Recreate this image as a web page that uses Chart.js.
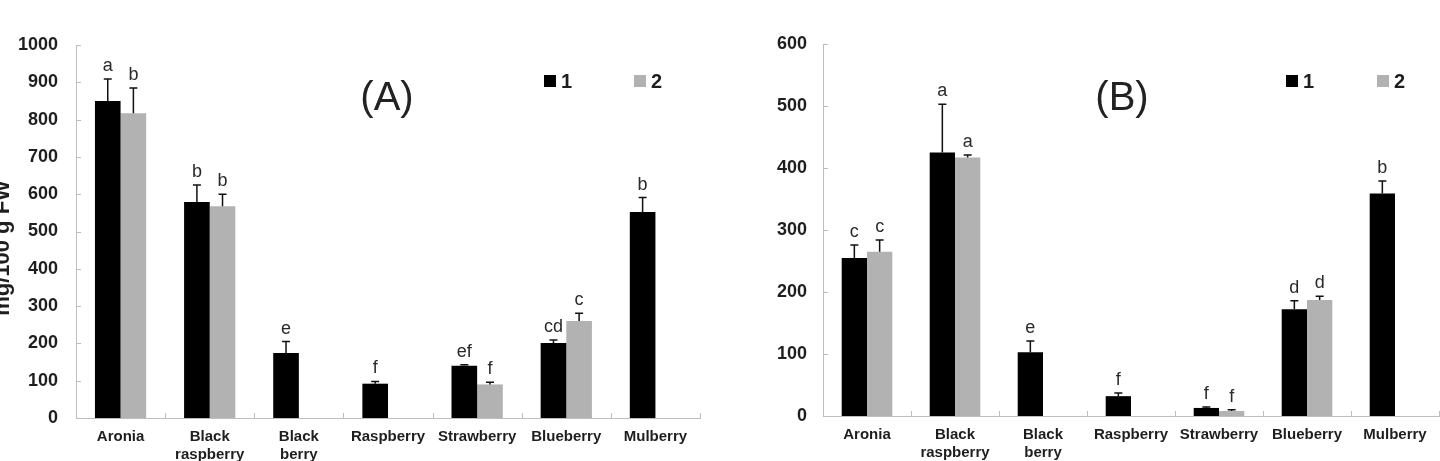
<!DOCTYPE html>
<html>
<head>
<meta charset="utf-8">
<script src="https://cdn.jsdelivr.net/npm/chart.js@4.4.1/dist/chart.umd.min.js"></script>
<style>
  html, body { margin: 0; padding: 0; background: #fff; overflow: hidden; }
  .panel { position: absolute; top: 0; width: 720px; height: 461px; }
  #panelA { left: 0; }
  #panelB { left: 720px; }
</style>
</head>
<body>
<div class="panel" id="panelA"><canvas id="chartA"></canvas></div>
<div class="panel" id="panelB"><canvas id="chartB"></canvas></div>
<script>
const fruits = ['Aronia', ['Black', 'raspberry'], ['Black', 'berry'], 'Raspberry', 'Strawberry', 'Blueberry', 'Mulberry']
const seriesNames = ['1', '2']

// panel (A)
const aSeries1 = [850, 579, 174, 92, 140, 201, 552]
const aSeries2 = [817, 568, null, null, 90, 260, null]
const aError1 = [59, 46, 31, 6, 3, 8, 39]
const aError2 = [68, 32, null, null, 6, 21, null]
const aLetters1 = ['a', 'b', 'e', 'f', 'ef', 'cd', 'b']
const aLetters2 = ['b', 'b', '', '', 'f', 'c', '']
const aYMax = 1000
const aYStep = 100

// panel (B)
const bSeries1 = [255, 425, 103, 32, 13, 172, 359]
const bSeries2 = [265, 417, null, null, 8, 187, null]
const bError1 = [21, 78, 18, 5, 1.5, 14, 20]
const bError2 = [19, 4, null, null, 2, 6, null]
const bLetters1 = ['c', 'a', 'e', 'f', 'f', 'd', 'b']
const bLetters2 = ['c', 'a', '', '', 'f', 'd', '']
const bYMax = 600
const bYStep = 100

const FONT = "'Liberation Sans', Arial, Helvetica, sans-serif"
const colors = ['#000000', '#b2b2b2']
const axisColor = '#bdbdbd'
const textColor = '#1e1e1e'

// error bars, significance letters, inner tick marks, legend and panel title
const decorPlugin = {
  id: 'decor',
  afterDatasetsDraw(chart, args, opts) {
    const ctx = chart.ctx
    const yScale = chart.scales.y
    const xScale = chart.scales.x
    const area = chart.chartArea

    // inner tick marks
    ctx.save()
    ctx.strokeStyle = axisColor
    ctx.lineWidth = 1
    ctx.beginPath()
    yScale.ticks.forEach(t => {
      const py = Math.round(yScale.getPixelForValue(t.value)) + 0.5
      ctx.moveTo(area.left, py)
      ctx.lineTo(area.left + 5, py)
    })
    const n = chart.data.labels.length
    for (let i = 1; i <= n; i++) {
      const px = i < n
        ? (xScale.getPixelForValue(i - 1) + xScale.getPixelForValue(i)) / 2
        : area.right
      const rx = Math.round(px) + 0.5
      ctx.moveTo(rx, area.bottom)
      ctx.lineTo(rx, area.bottom - 5)
    }
    ctx.stroke()
    ctx.restore()

    // error bars and letters
    chart.data.datasets.forEach((ds, di) => {
      const meta = chart.getDatasetMeta(di)
      meta.data.forEach((bar, j) => {
        const v = ds.data[j]
        if (v == null) return
        const err = ds.errors[j]
        const top = yScale.getPixelForValue(v + err)
        ctx.save()
        ctx.strokeStyle = '#111'
        ctx.lineWidth = 1.5
        ctx.beginPath()
        ctx.moveTo(bar.x, bar.y)
        ctx.lineTo(bar.x, top)
        ctx.moveTo(bar.x - 4, top)
        ctx.lineTo(bar.x + 4, top)
        ctx.stroke()
        const letter = ds.letters[j]
        if (letter) {
          ctx.fillStyle = '#2a2a2a'
          ctx.font = '18px ' + FONT
          ctx.textAlign = 'center'
          ctx.textBaseline = 'alphabetic'
          ctx.fillText(letter, bar.x, top - 8)
        }
        ctx.restore()
      })
    })

    // legend
    ctx.save()
    ctx.textBaseline = 'middle'
    ctx.textAlign = 'left'
    ctx.font = 'bold 20px ' + FONT
    chart.data.datasets.forEach((ds, di) => {
      const lx = opts.legendX[di]
      ctx.fillStyle = ds.backgroundColor
      ctx.fillRect(lx, opts.legendY - 6, 12, 12)
      ctx.fillStyle = textColor
      ctx.fillText(ds.label, lx + 17, opts.legendY + 1)
    })

    // panel title
    ctx.font = '40px ' + FONT
    ctx.textAlign = 'center'
    ctx.textBaseline = 'middle'
    ctx.fillStyle = '#222'
    ctx.fillText(opts.title, opts.titleX, opts.titleY)

    // y axis title, cut by the page edge
    if (opts.yTitle) {
      ctx.translate(9, 248)
      ctx.rotate(-Math.PI / 2)
      ctx.textBaseline = 'alphabetic'
      ctx.font = 'bold 22px ' + FONT
      ctx.fillStyle = textColor
      ctx.fillText(opts.yTitle, 0, 0)
    }
    ctx.restore()
  }
}

function makeChart(canvasId, s1, s2, e1, e2, l1, l2, yMax, yStep, layout) {
  return new Chart(document.getElementById(canvasId), {
    type: 'bar',
    data: {
      labels: fruits,
      datasets: [
        { label: seriesNames[0], data: s1, errors: e1, letters: l1, backgroundColor: colors[0] },
        { label: seriesNames[1], data: s2, errors: e2, letters: l2, backgroundColor: colors[1] }
      ]
    },
    plugins: [decorPlugin],
    options: {
      responsive: true,
      maintainAspectRatio: false,
      animation: false,
      layout: { padding: { left: 0, right: layout.right, top: layout.top, bottom: 0 } },
      plugins: {
        legend: { display: false },
        tooltip: { enabled: false },
        decor: layout.decor
      },
      datasets: {
        bar: { categoryPercentage: 0.575, barPercentage: 1, borderWidth: 0 }
      },
      scales: {
        x: {
          grid: { display: false, drawTicks: false },
          border: { display: true, color: axisColor, width: 1 },
          ticks: {
            autoSkip: false, maxRotation: 0, minRotation: 0, padding: 10,
            color: textColor,
            font: { family: FONT, size: 15, weight: 'bold', lineHeight: 1.2 }
          },
          afterFit(scale) { scale.height = layout.xHeight }
        },
        y: {
          min: 0, max: yMax,
          grid: { display: false, drawTicks: false },
          border: { display: true, color: axisColor, width: 1 },
          ticks: {
            stepSize: yStep, padding: layout.tickPad,
            color: textColor,
            font: { family: FONT, size: 18, weight: 'bold' },
            callback: value => String(value)
          },
          afterFit(scale) { scale.width = layout.yWidth }
        }
      }
    }
  })
}

makeChart('chartA', aSeries1, aSeries2, aError1, aError2, aLetters1, aLetters2, aYMax, aYStep, {
  right: 20, top: 45, xHeight: 43, yWidth: 76, tickPad: 18,
  decor: { legendX: [544, 634], legendY: 81, title: '(A)', titleX: 387, titleY: 99, yTitle: 'mg/100 g FW' }
})

makeChart('chartB', bSeries1, bSeries2, bError1, bError2, bLetters1, bLetters2, bYMax, bYStep, {
  right: 1, top: 44, xHeight: 45, yWidth: 103, tickPad: 16,
  decor: { legendX: [566, 657], legendY: 81, title: '(B)', titleX: 402, titleY: 99, yTitle: '' }
})
</script>
</body>
</html>
